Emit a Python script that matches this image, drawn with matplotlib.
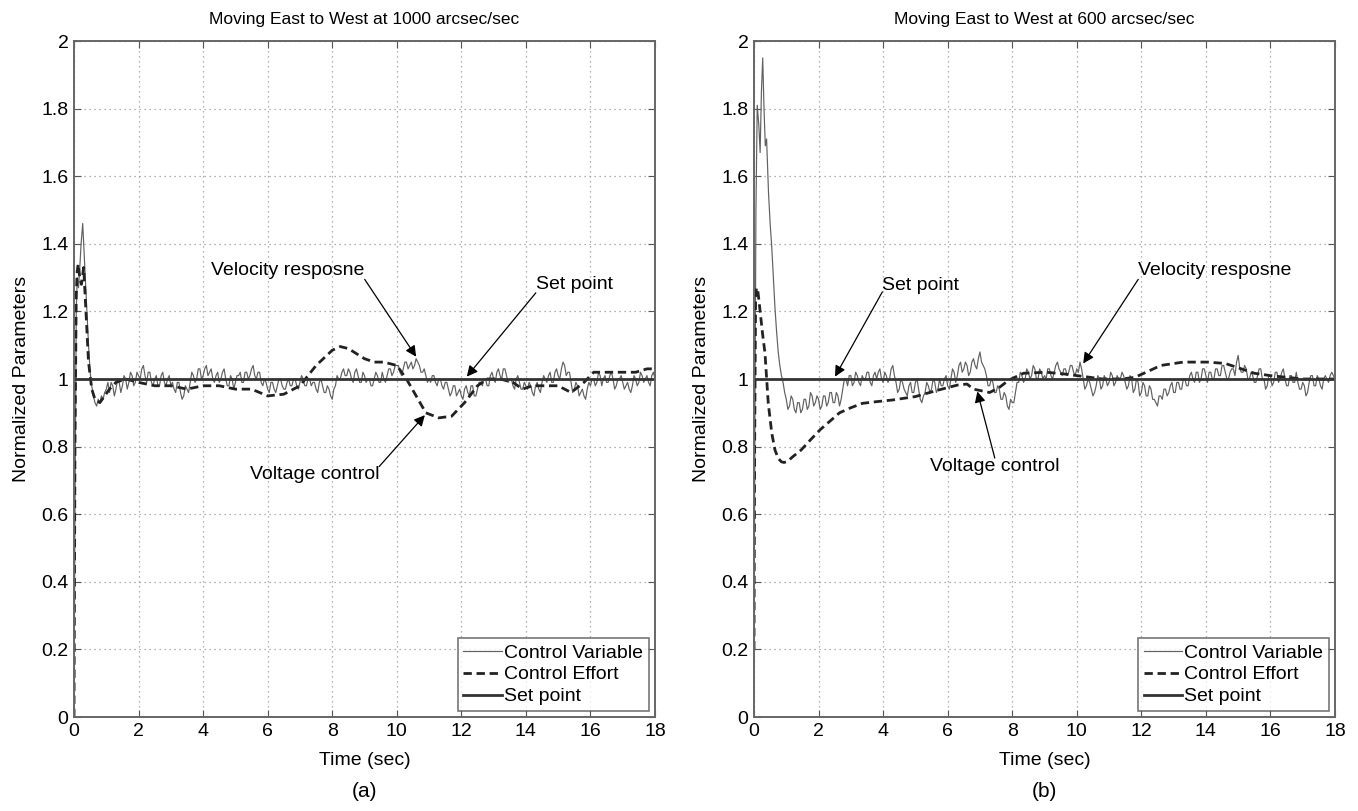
import numpy as np
import matplotlib
matplotlib.use("Agg")
import matplotlib.pyplot as plt

plt.rcParams['font.family'] = ['Liberation Sans', 'DejaVu Sans']

# ---------------- panel (a): 1000 arcsec/sec ----------------
# control variable: start transient, then 0.05 s samples from 1.05 to 18.0
t_cv_a_start = [0, 0.03, 0.07, 0.1, 0.14, 0.18, 0.22, 0.27, 0.31, 0.35, 0.4, 0.45,
                0.5, 0.55, 0.6, 0.65, 0.7, 0.75, 0.8, 0.85, 0.9, 0.95, 1.0]
cv_a_start = [0, 0.6, 1.2, 1.3, 1.27, 1.33, 1.4, 1.46, 1.38, 1.3, 1.2, 1.1,
              1.02, 0.98, 0.95, 0.93, 0.92, 0.94, 0.93, 0.95, 0.94, 0.96, 0.97]
cv_a_rest = [
    0.99, 0.96, 0.99, 0.98, 0.95, 0.97, 1.00, 0.99, 0.96, 0.98, 1.01, 1.00, 0.97, 0.99, 1.02, 1.01, 0.98, 0.99, 1.02, 1.01,
    1.00, 1.03, 1.04, 1.01, 0.99, 1.02, 1.02, 0.99, 0.98, 1.00, 1.01, 0.98, 0.98, 1.01, 1.02, 0.99, 0.98, 1.00, 1.01, 0.98,
    0.99, 0.97, 0.96, 0.99, 0.99, 0.96, 0.94, 0.95, 0.98, 0.97, 0.96, 0.99, 1.02, 1.01, 0.99, 1.00, 1.03, 1.03, 1.00, 1.01,
    1.03, 1.04, 1.01, 1.02, 1.03, 1.00, 0.99, 1.01, 1.02, 0.99, 1.00, 1.02, 1.03, 1.00, 0.98, 0.98, 1.01, 1.00, 0.97, 0.99,
    1.01, 1.01, 1.02, 0.99, 0.99, 1.02, 1.02, 1.00, 1.01, 1.03, 1.04, 1.01, 1.00, 1.02, 1.02, 0.99, 0.98, 1.00, 0.99, 0.97,
    0.96, 0.99, 0.99, 0.97, 0.96, 0.98, 1.00, 1.00, 0.98, 0.97, 0.97, 0.99, 1.00, 0.98, 0.98, 1.00, 1.00, 0.98, 0.97, 0.99,
    1.01, 1.00, 0.98, 0.98, 1.00, 1.00, 0.98, 0.99, 0.99, 0.97, 0.96, 0.99, 1.00, 0.98, 0.96, 0.96, 0.98, 0.97, 0.95, 0.94,
    0.97, 0.98, 1.01, 1.00, 1.00, 1.02, 1.03, 1.01, 1.01, 1.03, 1.02, 1.00, 0.99, 1.02, 1.03, 1.01, 0.99, 0.99, 1.02, 1.01,
    0.99, 1.00, 1.00, 0.98, 0.98, 1.00, 1.02, 1.01, 0.99, 0.99, 1.02, 1.00, 0.99, 1.01, 1.03, 1.03, 1.01, 1.02, 1.04, 1.04,
    1.04, 1.02, 1.01, 1.03, 1.05, 1.05, 1.03, 1.04, 1.05, 1.03, 1.04, 1.06, 1.05, 1.04, 1.02, 1.02, 1.03, 1.01, 0.99, 1.00,
    0.99, 1.01, 1.01, 0.99, 0.98, 1.00, 1.00, 0.98, 0.97, 0.99, 0.99, 0.97, 0.95, 0.96, 0.98, 0.98, 0.95, 0.96, 0.97, 0.95,
    0.94, 0.97, 0.98, 0.96, 0.95, 0.98, 0.98, 0.95, 0.95, 0.97, 0.99, 0.99, 0.98, 1.00, 1.00, 0.98, 0.98, 1.01, 1.02, 1.00,
    0.99, 1.02, 1.03, 1.01, 1.00, 1.03, 1.03, 1.01, 0.99, 1.00, 1.00, 0.98, 0.97, 1.00, 1.01, 0.99, 0.97, 0.97, 0.99, 0.98,
    0.97, 0.99, 0.98, 0.96, 0.95, 0.98, 0.99, 0.97, 0.96, 0.99, 1.01, 1.00, 0.99, 1.01, 1.02, 0.99, 0.99, 1.02, 1.03, 1.01,
    1.00, 1.03, 1.05, 1.04, 1.01, 1.02, 1.02, 0.99, 0.96, 0.97, 0.99, 0.98, 0.95, 0.96, 0.97, 0.95, 0.94, 0.97, 0.99, 0.98,
    1.00, 1.00, 0.98, 0.99, 1.02, 1.01, 0.98, 1.00, 1.01, 0.99, 0.99, 1.01, 1.02, 1.00, 0.97, 0.98, 1.00, 1.00, 1.01, 0.99,
    0.97, 0.98, 0.99, 0.97, 0.96, 0.98, 1.01, 1.00, 0.98, 0.99, 1.02, 1.01, 0.99, 1.00, 1.01, 0.99, 0.98, 1.01, 1.02, 1.00,
]
t_ce_a = [0, 0.03, 0.07, 0.1, 0.13, 0.18, 0.23, 0.3, 0.37, 0.45, 0.55, 0.65, 0.8,
          0.95, 1.1, 1.3, 1.6, 2.0, 2.5, 3.0, 3.5, 4.0, 4.5, 5.0, 5.5, 6.0, 6.5,
          7.0, 7.5, 8.0, 8.25, 8.5, 9.0, 9.3, 9.6, 10.0, 10.3, 10.6, 10.9, 11.3,
          11.7, 12.1, 12.5, 12.8, 13.2, 13.6, 13.9, 14.2, 14.6, 15.0, 15.4, 15.8,
          16.1, 16.5, 17.0, 17.4, 17.75, 18.0]
ce_a = [0, 0.8, 1.25, 1.32, 1.34, 1.3, 1.28, 1.33, 1.2, 1.05, 0.97, 0.94, 0.93,
        0.95, 0.97, 0.99, 1.0, 0.99, 0.98, 0.98, 0.97, 0.98, 0.98, 0.97, 0.97,
        0.95, 0.955, 0.98, 1.04, 1.085, 1.096, 1.09, 1.06, 1.05, 1.05, 1.04,
        1.0, 0.95, 0.90, 0.885, 0.89, 0.93, 0.98, 1.0, 1.0, 0.99, 0.97, 0.98,
        0.98, 0.98, 0.96, 0.99, 1.02, 1.02, 1.02, 1.02, 1.03, 1.03]

# ---------------- panel (b): 600 arcsec/sec ----------------
t_cv_b_start = [0, 0.03, 0.06, 0.1, 0.15, 0.19, 0.23, 0.27, 0.31, 0.35, 0.39, 0.45,
                0.5, 0.55, 0.6, 0.65, 0.7, 0.75, 0.8, 0.85, 0.9, 0.95, 1.0]
cv_b_start = [0.2, 0.9, 1.5, 1.81, 1.75, 1.67, 1.85, 1.95, 1.8, 1.69, 1.71, 1.55,
              1.46, 1.39, 1.3, 1.21, 1.14, 1.08, 1.04, 1.01, 0.99, 0.96, 0.94]
cv_b_rest = [
    0.91, 0.92, 0.95, 0.94, 0.91, 0.90, 0.93, 0.93, 0.90, 0.91, 0.94, 0.94, 0.91, 0.92, 0.96, 0.95, 0.92, 0.93, 0.95, 0.94,
    0.91, 0.92, 0.95, 0.95, 0.92, 0.93, 0.96, 0.96, 0.93, 0.93, 0.96, 0.95, 0.92, 0.94, 0.97, 1.00, 1.00, 0.98, 1.01, 1.01,
    0.98, 0.99, 1.02, 1.01, 0.99, 0.98, 1.01, 1.00, 1.00, 1.02, 1.02, 0.99, 0.98, 1.01, 1.02, 1.00, 1.02, 1.03, 1.00, 0.99,
    1.02, 1.01, 0.99, 1.00, 1.03, 1.04, 1.01, 0.99, 0.96, 0.97, 1.00, 0.99, 0.97, 0.96, 0.95, 0.98, 0.99, 0.96, 0.96, 0.99,
    1.00, 0.97, 0.94, 0.93, 0.95, 0.96, 0.99, 0.98, 0.96, 0.97, 1.00, 0.99, 0.96, 0.97, 1.00, 0.98, 0.98, 1.00, 1.01, 0.98,
    0.97, 1.00, 1.03, 1.02, 0.99, 1.01, 1.04, 1.05, 1.02, 1.03, 1.05, 1.04, 1.01, 1.02, 1.05, 1.06, 1.04, 1.03, 1.06, 1.08,
    1.05, 1.04, 1.03, 1.01, 0.98, 0.98, 1.00, 0.99, 0.96, 0.96, 0.98, 0.97, 0.94, 0.94, 0.96, 0.95, 0.92, 0.91, 0.94, 0.93,
    0.93, 0.96, 0.99, 0.99, 1.02, 1.01, 0.99, 1.00, 1.03, 1.02, 1.00, 1.01, 1.04, 1.03, 1.00, 1.00, 1.03, 1.02, 1.00, 1.01,
    1.00, 1.03, 1.03, 1.01, 1.00, 1.02, 1.04, 1.05, 1.03, 1.02, 1.01, 1.03, 1.03, 1.01, 1.02, 1.04, 1.04, 1.02, 1.01, 1.03,
    1.02, 1.05, 1.03, 1.00, 0.97, 0.98, 1.00, 0.99, 0.97, 0.95, 0.96, 0.98, 1.01, 1.00, 0.97, 0.98, 1.01, 1.00, 0.98, 0.99,
    1.02, 1.01, 0.98, 0.99, 1.01, 1.00, 1.00, 1.02, 1.01, 0.99, 0.97, 0.98, 1.01, 1.00, 0.96, 0.97, 1.00, 0.99, 0.95, 0.96,
    0.99, 0.98, 0.95, 0.95, 0.98, 0.97, 0.94, 0.94, 0.93, 0.92, 0.95, 0.95, 0.94, 0.97, 0.97, 0.95, 0.96, 0.98, 0.99, 0.96,
    0.96, 0.99, 0.99, 0.97, 0.97, 1.00, 1.00, 0.98, 0.98, 1.01, 1.02, 1.00, 0.99, 1.02, 1.02, 0.99, 1.00, 1.03, 1.03, 1.01,
    0.99, 1.02, 1.02, 1.00, 1.00, 1.03, 1.03, 1.01, 1.01, 1.04, 1.04, 1.02, 1.00, 1.00, 1.02, 1.03, 1.03, 1.01, 1.05, 1.07,
    1.03, 1.02, 1.02, 1.04, 1.03, 1.00, 1.00, 1.02, 1.01, 0.99, 0.99, 1.01, 1.03, 1.03, 1.00, 1.00, 0.97, 0.98, 1.01, 1.01,
    0.98, 0.99, 1.02, 1.02, 0.99, 1.00, 1.02, 1.03, 1.00, 0.98, 0.98, 1.01, 1.01, 0.99, 0.99, 1.02, 0.99, 0.97, 0.97, 0.99,
    0.98, 0.95, 0.96, 0.99, 1.01, 1.01, 0.98, 0.98, 1.01, 1.00, 0.98, 0.97, 1.00, 1.01, 1.00, 0.99, 1.01, 1.02, 1.01, 1.00,
]
t_ce_b = [0, 0.02, 0.05, 0.08, 0.12, 0.19, 0.27, 0.34, 0.44, 0.55, 0.65, 0.75,
          0.85, 0.93, 1.05, 1.2, 1.46, 1.75, 2.05, 2.35, 2.65, 3.0, 3.36, 3.8,
          4.3, 5.0, 5.7, 6.3, 6.6, 6.8, 7.05, 7.3, 7.6, 7.9, 8.35, 9.06, 9.6,
          10.25, 10.8, 11.4, 11.8, 12.15, 12.6, 13.3, 14.05, 14.6, 15.1, 15.5,
          16.0, 17.0, 18.0]
ce_b = [0.2, 0.8, 1.25, 1.27, 1.26, 1.2, 1.13, 1.077, 0.93, 0.84, 0.79, 0.765,
        0.755, 0.753, 0.757, 0.77, 0.79, 0.82, 0.85, 0.875, 0.90, 0.915, 0.928,
        0.933, 0.938, 0.948, 0.967, 0.982, 0.985, 0.97, 0.965, 0.96, 0.975,
        0.997, 1.017, 1.02, 1.015, 1.007, 1.0, 1.0, 1.005, 1.02, 1.04, 1.05,
        1.05, 1.046, 1.03, 1.017, 1.01, 1.0, 1.0]

t_sp = [0, 18]
sp = [1, 1]

titles = ["Moving East to West at 1000 arcsec/sec", "Moving East to West at 600 arcsec/sec"]
panel_tags = ["(a)", "(b)"]
yticks = [0, 0.2, 0.4, 0.6, 0.8, 1, 1.2, 1.4, 1.6, 1.8, 2]
ytick_labels = ["0", "0.2", "0.4", "0.6", "0.8", "1", "1.2", "1.4", "1.6", "1.8", "2"]
xticks = list(range(0, 19, 2))

t_rest = np.round(np.arange(1.05, 18.001, 0.05), 2)

fig = plt.figure(figsize=(13.58, 8.11), dpi=100)
ax_a = fig.add_axes([74 / 1358, 94 / 811, 581 / 1358, 676 / 811])
ax_b = fig.add_axes([754 / 1358, 94 / 811, 581 / 1358, 676 / 811])

series = [
    (list(t_cv_a_start) + list(t_rest), cv_a_start + cv_a_rest, t_ce_a, ce_a),
    (list(t_cv_b_start) + list(t_rest), cv_b_start + cv_b_rest, t_ce_b, ce_b),
]

for ax, (tcv, cv, tce, ce), title, tag in zip([ax_a, ax_b], series, titles, panel_tags):
    ax.plot(tcv, cv, color='#606060', lw=0.85, label='Control Variable')
    ax.plot(tce, ce, color='#222222', lw=2.0, ls=(0, (3, 1.7)), label='Control Effort')
    ax.plot(t_sp, sp, color='#333333', lw=2.0, label='Set point')
    ax.set_xlim(0, 18)
    ax.set_ylim(0, 2)
    ax.set_xticks(xticks)
    ax.set_yticks(yticks)
    ax.set_yticklabels(ytick_labels)
    ax.tick_params(direction='in', top=True, right=True, labelsize=14, length=5,
                   color='#555555', pad=4)
    ax.grid(True, ls=(0, (1, 3)), color='#999999', lw=0.9)
    for s in ax.spines.values():
        s.set_color('#666666')
        s.set_linewidth(1.4)
    ax.set_title(title, fontsize=12.5, pad=12)
    ax.set_xlabel("Time (sec)", fontsize=14, labelpad=9)
    ax.set_ylabel("Normalized Parameters", fontsize=14, labelpad=8)
    leg = ax.legend(loc='lower right', fontsize=14, frameon=True, fancybox=False,
                    handlelength=2.0, handletextpad=0.1, borderpad=0.3,
                    labelspacing=0.22, borderaxespad=0.3)
    leg.get_frame().set_edgecolor('#555555')
    leg.get_frame().set_linewidth(1.2)
    ax.text(0.5, -0.11, tag, transform=ax.transAxes, ha='center', va='center', fontsize=15)

arrow = dict(arrowstyle='-|>', color='k', lw=0.9, mutation_scale=16, shrinkA=0, shrinkB=0)

# panel (a) annotations
ax_a.annotate("Velocity resposne", xy=(10.6, 1.066), xytext=(6.63, 1.32), fontsize=14,
              ha='center', va='center', arrowprops=dict(arrow, relpos=(1, 0), patchA=None))
ax_a.annotate("Set point", xy=(12.17, 1.007), xytext=(15.5, 1.28), fontsize=14,
              ha='center', va='center', arrowprops=dict(arrow, relpos=(0, 0), patchA=None))
ax_a.annotate("Voltage control", xy=(10.87, 0.893), xytext=(7.45, 0.716), fontsize=14,
              ha='center', va='center', arrowprops=dict(arrow, relpos=(1, 1), patchA=None))

# panel (b) annotations
ax_b.annotate("Set point", xy=(2.51, 1.007), xytext=(5.17, 1.278), fontsize=14,
              ha='center', va='center', arrowprops=dict(arrow, relpos=(0, 0.1), patchA=None))
ax_b.annotate("Velocity resposne", xy=(10.2, 1.046), xytext=(14.28, 1.32), fontsize=14,
              ha='center', va='center', arrowprops=dict(arrow, relpos=(0, 0), patchA=None))
ax_b.annotate("Voltage control", xy=(6.92, 0.963), xytext=(7.46, 0.741), fontsize=14,
              ha='center', va='center', arrowprops=dict(arrow, relpos=(0.5, 1), patchA=None))

fig.savefig("out.png", dpi=100)
